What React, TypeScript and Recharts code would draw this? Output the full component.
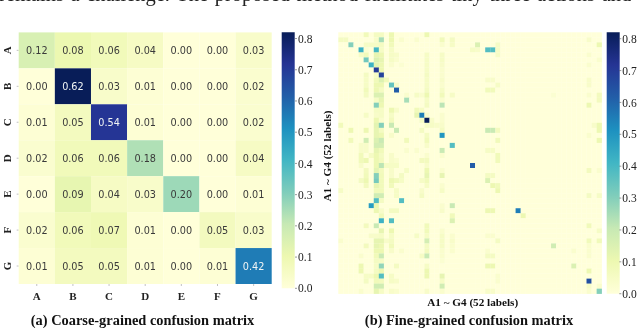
import React from "react";
import { ScatterChart, Scatter, XAxis, YAxis, BarChart, Bar } from "recharts";

const W = 640;
const H = 328;
const coarseLabels = ["A", "B", "C", "D", "E", "F", "G"];
const coarseValues = [
  [0.12, 0.08, 0.06, 0.04, 0.0, 0.0, 0.03],
  [0.0, 0.62, 0.03, 0.01, 0.0, 0.0, 0.02],
  [0.01, 0.05, 0.54, 0.01, 0.0, 0.0, 0.02],
  [0.02, 0.06, 0.06, 0.18, 0.0, 0.0, 0.04],
  [0.0, 0.09, 0.04, 0.03, 0.2, 0.0, 0.01],
  [0.02, 0.06, 0.07, 0.01, 0.0, 0.05, 0.03],
  [0.01, 0.05, 0.05, 0.01, 0.0, 0.01, 0.42],
];
// sparse rows of the 52 x 52 matrix: [column, value]
const fineRows: [number, number][][] = [
  [[5,.08],[7,.06],[8,.06],[10,.1],[17,.1]],
  [[0,.06],[1,.06],[7,.04],[8,.25],[10,.1],[12,.03],[15,.03],[20,.08],[22,.06],[49,.04]],
  [[2,.3],[5,.05],[6,.05],[7,.05],[8,.06],[10,.08],[20,.03],[22,.05],[27,.15],[31,.05],[51,.1]],
  [[4,.42],[5,.02],[7,.4],[8,.05],[10,.05],[26,.05],[27,.04],[29,.38],[30,.38],[31,.05]],
  [[4,.05],[5,.08],[7,.12],[8,.1],[10,.05],[11,.04],[17,.05],[20,.05],[31,.05],[49,.03]],
  [[5,.33],[7,.15],[8,.12],[10,.05],[11,.03],[17,.05],[20,.05],[51,.03]],
  [[6,.42],[7,.13],[8,.1],[10,.03],[12,.02],[17,.05],[20,.04],[49,.03]],
  [[7,.7],[8,.1],[17,.05],[20,.03]],
  [[5,.06],[7,.05],[8,.68],[17,.06],[20,.03]],
  [[5,.05],[7,.08],[8,.15],[9,.08],[17,.05],[20,.04],[29,.04],[30,.04],[49,.04]],
  [[5,.05],[7,.1],[8,.1],[10,.35],[11,.04],[17,.05],[20,.03],[31,.05],[49,.04]],
  [[5,.08],[7,.1],[8,.06],[11,.62],[17,.06],[20,.05],[29,.08],[30,.08]],
  [[5,.06],[7,.15],[8,.15],[13,.03],[15,.05],[16,.03],[17,.1],[20,.08],[22,.05],[42,.02],[49,.03],[51,.07]],
  [[7,.05],[8,.12],[13,.25],[17,.05],[20,.03],[51,.07]],
  [[7,.3],[8,.1],[17,.06],[20,.22],[49,.1]],
  [[7,.05],[8,.05],[10,.1],[11,.04],[15,.08],[16,.05]],
  [[5,.05],[7,.04],[8,.05],[10,.05],[15,.12],[16,.55],[17,.03],[20,.03]],
  [[7,.1],[8,.03],[10,.07],[16,.05],[17,.82],[18,.04],[20,.03]],
  [[0,.08],[7,.13],[8,.3],[10,.2],[17,.05],[18,.05],[19,.04],[20,.04],[50,.04],[51,.1]],
  [[2,.1],[5,.1],[7,.12],[8,.06],[11,.2],[16,.06],[20,.06],[29,.2],[30,.2],[31,.07],[51,.1]],
  [[7,.12],[8,.1],[10,.04],[17,.06],[20,.5],[49,.03]],
  [[2,.08],[5,.18],[7,.15],[8,.2],[13,.08],[17,.08],[31,.08],[51,.1]],
  [[4,.04],[5,.04],[7,.17],[8,.17],[17,.04],[22,.38]],
  [[4,.04],[5,.04],[7,.12],[8,.08],[13,.03],[15,.03],[20,.2],[29,.05],[30,.05]],
  [[4,.08],[6,.05],[7,.1],[8,.06],[10,.04],[17,.03],[20,.03],[31,.08]],
  [[4,.08],[5,.1],[7,.1],[8,.07],[10,.04],[11,.03],[16,.07],[17,.07],[31,.08]],
  [[4,.04],[7,.1],[8,.22],[9,.05],[10,.05],[11,.05],[17,.04],[26,.62]],
  [[5,.07],[7,.13],[8,.07],[10,.04],[13,.05],[17,.1],[20,.03],[49,.07],[51,.03]],
  [[5,.08],[7,.3],[8,.08],[10,.04],[12,.06],[17,.12],[20,.12],[29,.06],[30,.06]],
  [[4,.06],[5,.1],[7,.32],[8,.08],[10,.1],[11,.08],[12,.05],[16,.05],[17,.08],[29,.15]],
  [[5,.07],[7,.12],[8,.08],[10,.08],[17,.05],[20,.03],[30,.1],[31,.08]],
  [[0,.05],[7,.08],[8,.08],[11,.05],[16,.04],[20,.05],[31,.1]],
  [[7,.18],[8,.18],[11,.05],[16,.06],[49,.06],[51,.05]],
  [[7,.38],[8,.06],[12,.38]],
  [[6,.48],[7,.1],[20,.03],[22,.2]],
  [[7,.1],[8,.04],[10,.06],[11,.06],[20,.04],[29,.1],[30,.1],[35,.55]],
  [[8,.08],[22,.08],[36,.1]],
  [[8,.42],[10,.38],[22,.15]],
  [[5,.07],[7,.2],[17,.08],[49,.08]],
  [[8,.12],[10,.1],[17,.08],[20,.03],[51,.05]],
  [[6,.04],[7,.04],[8,.05],[10,.05],[15,.05],[17,.05],[20,.05],[22,.03],[29,.03],[30,.03]],
  [[0,.03],[7,.12],[8,.12],[9,.04],[10,.06],[17,.17],[20,.05],[22,.04],[31,.06],[49,.08],[51,.08]],
  [[5,.07],[7,.12],[8,.1],[10,.08],[17,.06],[20,.05],[22,.03],[42,.18],[49,.03]],
  [[7,.1],[8,.1],[10,.04],[12,.03],[17,.07],[20,.03],[22,.03],[29,.03],[46,.03],[49,.03]],
  [[4,.03],[7,.08],[8,.2],[16,.05],[17,.2],[20,.03],[29,.06],[30,.06],[49,.03]],
  [[7,.06],[8,.05],[20,.02]],
  [[4,.1],[7,.05],[8,.28],[11,.06],[17,.05],[29,.1],[30,.1],[46,.15]],
  [[4,.1],[7,.06],[8,.1],[17,.1],[49,.1]],
  [[5,.05],[6,.05],[7,.1],[8,.38],[10,.05],[17,.1],[20,.12],[31,.03]],
  [[5,.06],[7,.08],[8,.07],[10,.05],[11,.04],[20,.05],[31,.03],[49,.65]],
  [[7,.18],[8,.18],[20,.18],[49,.05],[51,.03]],
  [[4,.03],[7,.12],[8,.05],[10,.04],[11,.03],[17,.04],[20,.03],[29,.04],[30,.04],[49,.03],[51,.3]],
];
const colorbarTicks = [0, 0.1, 0.2, 0.3, 0.4, 0.5, 0.6, 0.7, 0.8];
const colorbarMax = 0.82;
const palette = ["#ffffd9", "#edf8b1", "#c7e9b4", "#7fcdbb", "#41b6c4", "#1d91c0", "#225ea8", "#253494", "#081d58"];

const hexToRgb = (h: string) => [1, 3, 5].map((i) => parseInt(h.slice(i, i + 2), 16));
function colorOf(v: number, vmax: number) {
  const t = Math.max(0, Math.min(1, v / vmax)) * (palette.length - 1);
  const i = Math.min(palette.length - 2, Math.floor(t));
  const a = hexToRgb(palette[i]);
  const b = hexToRgb(palette[i + 1]);
  const f = t - i;
  return `rgb(${a.map((c, k) => Math.round(c + (b[k] - c) * f)).join(",")})`;
}

const coarseData = coarseValues.flatMap((row, r) => row.map((v, c) => ({ x: c + 0.5, y: r + 0.5, v })));
const fineData = Array.from({ length: 52 }, (_, r) =>
  Array.from({ length: 52 }, (_, c) => {
    const hit = fineRows[r].find((e) => e[0] === c);
    return { x: c + 0.5, y: r + 0.5, v: hit ? hit[1] : 0 };
  })
).flat();

const SERIF = "'Liberation Serif', serif";
const abs: React.CSSProperties = { position: "absolute", left: 0, top: 0 };

const C = { l: 18.7, r: 271.7, t: 32.4, b: 284 };
const F = { l: 338.3, r: 601.7, t: 32.3, b: 293.7 };
const midTicks = coarseLabels.map((_, i) => i + 0.5);

function XTick(p: any) {
  return (
    <text x={p.x} y={p.y + 12} textAnchor="middle" fontFamily={SERIF} fontWeight="bold" fontSize={11} fill="#222">
      {coarseLabels[Math.floor(p.payload.value)]}
    </text>
  );
}
function YTick(p: any) {
  const tx = p.x - 7.5;
  return (
    <text x={tx} y={p.y} textAnchor="middle" fontFamily={SERIF} fontWeight="bold" fontSize={11} fill="#222"
      transform={`rotate(-90 ${tx} ${p.y})`} dominantBaseline="central">
      {coarseLabels[Math.floor(p.payload.value)]}
    </text>
  );
}

function coarseShape(p: any) {
  const w = (C.r - C.l) / 7;
  const h = (C.b - C.t) / 7;
  const v = p.payload.v;
  return (
    <g>
      <rect x={p.cx - w / 2} y={p.cy - h / 2} width={w} height={h} fill={colorOf(v, 0.62)} />
      <text x={p.cx} y={p.cy} textAnchor="middle" dominantBaseline="central" fontFamily="'DejaVu Sans', sans-serif"
        fontSize={9.7} fill={v > 0.35 ? "#f0f4f4" : "#3a3a3a"}>
        {v.toFixed(2)}
      </text>
    </g>
  );
}
function fineShape(p: any) {
  const w = (F.r - F.l) / 52;
  const h = (F.b - F.t) / 52;
  return <rect x={p.cx - w / 2} y={p.cy - h / 2} width={w + 0.2} height={h + 0.2} fill={colorOf(p.payload.v, colorbarMax)} />;
}

function Colorbar({ id, left, right, top, bottom }: { id: string; left: number; right: number; top: number; bottom: number }) {
  const axisW = 28;
  return (
    <div style={abs}>
      <BarChart width={W} height={H} data={[{ name: "cb", v: colorbarMax }]} barCategoryGap={0}
        margin={{ left, right: W - right - axisW, top, bottom: H - bottom }}>
        <defs>
          <linearGradient id={id} x1="0" y1="1" x2="0" y2="0">
            {palette.map((c, i) => (
              <stop key={c} offset={i / (palette.length - 1)} stopColor={c} />
            ))}
          </linearGradient>
        </defs>
        <XAxis dataKey="name" hide />
        <YAxis orientation="right" width={axisW} domain={[0, colorbarMax]} ticks={colorbarTicks} axisLine={false}
          tickLine={{ stroke: "#555", strokeWidth: 0.6 }} tickSize={2} tickMargin={1} interval={0}
          tickFormatter={(v: number) => v.toFixed(1)}
          tick={{ fontFamily: SERIF, fontSize: 11.5, fill: "#222" }} />
        <Bar dataKey="v" fill={`url(#${id})`} isAnimationActive={false} />
      </BarChart>
    </div>
  );
}

export default function App() {
  return (
    <div style={{ position: "absolute", left: 0, top: 0, width: W, height: H, overflow: "hidden", background: "#fff", filter: "blur(0.4px)" }}>
      <div style={abs}>
        <ScatterChart width={W} height={H} margin={{ left: 0, right: W - C.r, top: C.t, bottom: H - C.b - 24 }}>
          <XAxis type="number" dataKey="x" domain={[0, 7]} ticks={midTicks} height={24} interval={0} axisLine={false}
            tickLine={{ stroke: "#999", strokeWidth: 0.6 }} tickSize={2} tick={<XTick />} />
          <YAxis type="number" dataKey="y" domain={[0, 7]} reversed ticks={midTicks} width={C.l} interval={0} axisLine={false}
            tickLine={{ stroke: "#999", strokeWidth: 0.6 }} tickSize={2} tick={<YTick />} />
          <Scatter data={coarseData} shape={coarseShape} isAnimationActive={false} />
        </ScatterChart>
      </div>
      <Colorbar id="cbA" left={281.7} right={295} top={32.3} bottom={288.3} />
      <div style={abs}>
        <ScatterChart width={W} height={H} margin={{ left: F.l, right: W - F.r, top: F.t, bottom: H - F.b }}>
          <XAxis type="number" dataKey="x" domain={[0, 52]} hide />
          <YAxis type="number" dataKey="y" domain={[0, 52]} reversed hide />
          <Scatter data={fineData} shape={fineShape} isAnimationActive={false} />
        </ScatterChart>
      </div>
      <Colorbar id="cbB" left={606.7} right={619.3} top={32.3} bottom={293.7} />
      <svg width={W} height={H} style={{ ...abs, pointerEvents: "none" }}>
        <text x={-1} y={0.5} fontFamily={SERIF} fontSize={20.5} wordSpacing={1.5} fill="#222">
          remains a challenge. The proposed method facilitates tiny three actions and
        </text>
        <text x={142.5} y={325} textAnchor="middle" fontFamily={SERIF} fontWeight="bold" fontSize={14.4} fill="#111">
          (a) Coarse-grained confusion matrix
        </text>
        <text x={469} y={325} textAnchor="middle" fontFamily={SERIF} fontWeight="bold" fontSize={14.4} fill="#111">
          (b) Fine-grained confusion matrix
        </text>
        <text x={472.7} y={306} textAnchor="middle" fontFamily={SERIF} fontWeight="bold" fontSize={11.2} fill="#111">
          A1 ~ G4 (52 labels)
        </text>
        <text x={331} y={156} textAnchor="middle" fontFamily={SERIF} fontWeight="bold" fontSize={11.2} fill="#111"
          transform="rotate(-90 331 156)">
          A1 ~ G4 (52 labels)
        </text>
      </svg>
    </div>
  );
}
